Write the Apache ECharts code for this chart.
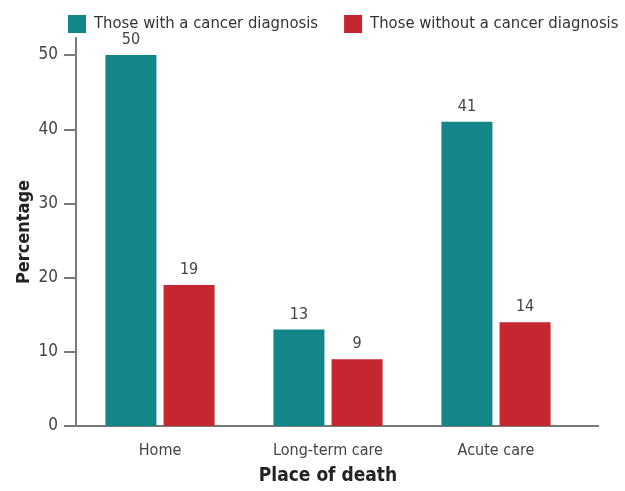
<!DOCTYPE html>
<html><head><meta charset="utf-8">
<script src="https://cdn.jsdelivr.net/npm/echarts@6/dist/echarts.min.js"></script>
<style>html,body{margin:0;padding:0;background:#fff}#c{width:625px;height:491px}</style>
</head><body><div id="c"></div>
<script>
const categories = ['Home', 'Long-term care', 'Acute care'];
const withCancer = [50, 13, 41];
const withoutCancer = [19, 9, 14];
const seriesNames = ['Those with a cancer diagnosis', 'Those without a cancer diagnosis'];
const yTicks = [0, 10, 20, 30, 40, 50];

const FONT = '"Liberation Sans Narrow", "DejaVu Sans Condensed", "Roboto", sans-serif';
const AXIS = '#7a7a7a';
const chart = echarts.init(document.getElementById('c'));
chart.setOption({
  animation: false,
  textStyle: { fontFamily: FONT },
  legend: {
    top: 10, left: 63, width: 600, itemWidth: 18, itemHeight: 18, itemGap: 26,
    icon: 'rect', orient: 'horizontal',
    textStyle: { fontFamily: FONT, fontSize: 16.5, color: '#333', padding: [0, 0, 0, 3] },
    data: seriesNames
  },
  grid: { left: 76, right: 45, top: 38, bottom: 63 },
  xAxis: {
    type: 'category', data: categories,
    name: 'Place of death', nameLocation: 'middle', nameGap: 41,
    nameTextStyle: { fontFamily: FONT, fontSize: 19, fontWeight: 'bold', color: '#222' },
    axisLine: { lineStyle: { color: AXIS, width: 2 } },
    axisTick: { length: 13, lineStyle: { color: AXIS, width: 2 } },
    axisLabel: { margin: 17, fontSize: 16, color: '#444', fontFamily: FONT }
  },
  yAxis: {
    type: 'value', min: 0, max: 52.3, interval: 10,
    name: 'Percentage', nameLocation: 'middle', nameGap: 43, nameMoveOverlap: false,
    nameTextStyle: { fontFamily: FONT, fontSize: 18, fontWeight: 'bold', color: '#222' },
    splitLine: { show: false },
    axisLine: { show: true, lineStyle: { color: AXIS, width: 2 } },
    axisTick: { show: true, length: 12, customValues: yTicks, lineStyle: { color: AXIS, width: 2 } },
    axisLabel: { margin: 18, fontSize: 17, color: '#444', fontFamily: FONT, customValues: yTicks }
  },
  series: [
    { name: seriesNames[0], type: 'bar', data: withCancer, barWidth: 51, barGap: '14%',
      itemStyle: { color: '#13868a' },
      label: { show: true, position: 'top', distance: 7, fontSize: 16, color: '#444', fontFamily: FONT } },
    { name: seriesNames[1], type: 'bar', data: withoutCancer, barWidth: 51,
      itemStyle: { color: '#c4272f' },
      label: { show: true, position: 'top', distance: 7, fontSize: 16, color: '#444', fontFamily: FONT } }
  ]
});
// extend the x axis line slightly past the last category boundary, as in the reference
const y0 = chart.convertToPixel({ yAxisIndex: 0 }, 0);
const xEnd = chart.getWidth() - 45;
chart.setOption({
  graphic: [{ type: 'line', shape: { x1: xEnd - 1, y1: y0, x2: xEnd + 19, y2: y0 },
    style: { stroke: AXIS, lineWidth: 2 } }]
});
</script></body></html>
